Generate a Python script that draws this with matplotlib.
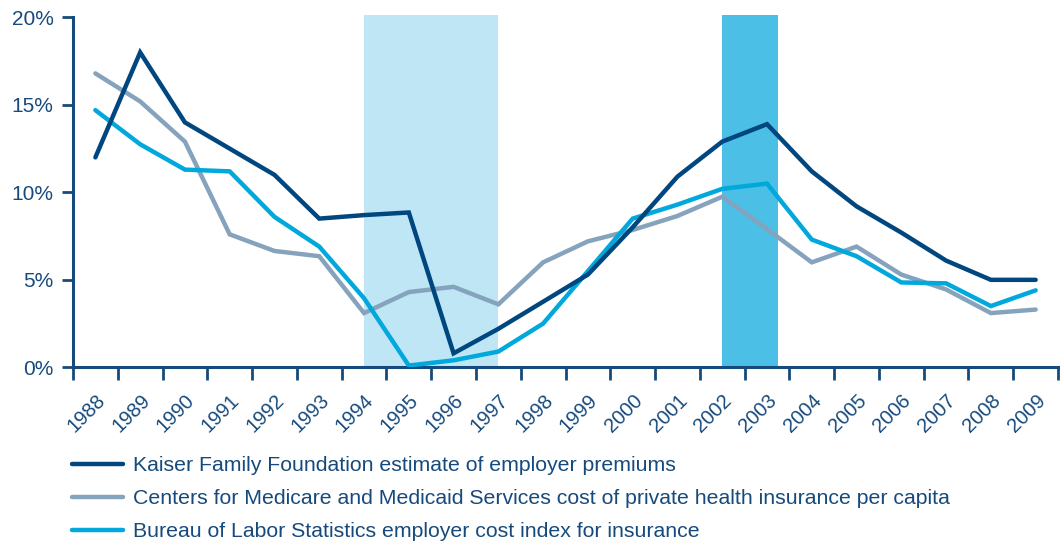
import matplotlib
matplotlib.use("Agg")
import matplotlib.pyplot as plt
import numpy as np

years = [str(y) for y in range(1988, 2010)]
kaiser = [12.0, 18.0, 14.0, 12.5, 11.0, 8.5, 8.7, 8.85, 0.8, 2.2, 3.75, 5.3, 8.0, 10.9,
          12.9, 13.9, 11.2, 9.2, 7.7, 6.1, 5.0, 5.0]
cms = [16.8, 15.2, 12.9, 7.6, 6.65, 6.35, 3.1, 4.3, 4.6, 3.6, 6.0, 7.2, 7.85, 8.65,
       9.75, 7.9, 6.0, 6.9, 5.3, 4.45, 3.1, 3.3]
bls = [14.7, 12.75, 11.3, 11.2, 8.6, 6.9, 3.95, 0.1, 0.4, 0.9, 2.5, 5.5, 8.5, 9.3,
       10.2, 10.5, 7.3, 6.35, 4.85, 4.8, 3.5, 4.4]
labels = ["Kaiser Family Foundation estimate of employer premiums",
          "Centers for Medicare and Medicaid Services cost of private health insurance per capita",
          "Bureau of Labor Statistics employer cost index for insurance"]
yticks = [0, 5, 10, 15, 20]

NAVY = "#00467f"
GRAY = "#86a3bd"
CYAN = "#00a8dc"
AX = "#174a7c"

plt.rcParams['font.family'] = ['Liberation Sans', 'DejaVu Sans']

fig = plt.figure(figsize=(10.64, 5.44), dpi=100)
ax = fig.add_axes([0.0686, 0.3248, 0.9258, 0.648])
x = np.arange(len(years))

ax.axvspan(6, 9, color="#bee6f5", lw=0, zorder=0)
ax.axvspan(14, 15.25, color="#4bbfe5", lw=0, zorder=0)

lw = 3.2
l1, = ax.plot(x, kaiser, color=NAVY, lw=lw, zorder=4, solid_joinstyle='miter', solid_capstyle='round')
l2, = ax.plot(x, cms, color=GRAY, lw=lw, zorder=2, solid_joinstyle='miter', solid_capstyle='round')
l3, = ax.plot(x, bls, color=CYAN, lw=lw, zorder=3, solid_joinstyle='miter', solid_capstyle='round')

ax.set_xlim(-0.5, len(years) - 0.5)
ax.set_ylim(0, 20.15)

ax.set_yticks(yticks)
ax.set_yticklabels([f"{v}%" for v in yticks], fontsize=15, color=AX)
ax.set_xticks(np.arange(-0.5, len(years), 1.0))
ax.set_xticklabels([])
ax.set_xticks(x, minor=True)
ax.set_xticklabels(years, minor=True, rotation=45, ha='right', va='top',
                   rotation_mode='anchor', fontsize=14.5, color=AX)
ax.tick_params(axis='x', which='minor', length=0, pad=17)
ax.tick_params(axis='x', which='major', length=9, width=2, color=AX, direction='out')
ax.tick_params(axis='y', length=8, width=2, color=AX, pad=6)

for s in ['top', 'right']:
    ax.spines[s].set_visible(False)
for s in ['left', 'bottom']:
    ax.spines[s].set_color(AX)
    ax.spines[s].set_linewidth(2.2)
ax.spines['left'].set_bounds(0, 20)

leg = fig.legend([l1, l2, l3], labels, loc='upper left',
                 bbox_to_anchor=(0.0677, 0.161), frameon=False, fontsize=15.3,
                 handlelength=2.4, handletextpad=0.47, labelspacing=0.655,
                 borderaxespad=0, borderpad=0)
for t in leg.get_texts():
    t.set_color(AX)

fig.savefig("out.png", dpi=100)
